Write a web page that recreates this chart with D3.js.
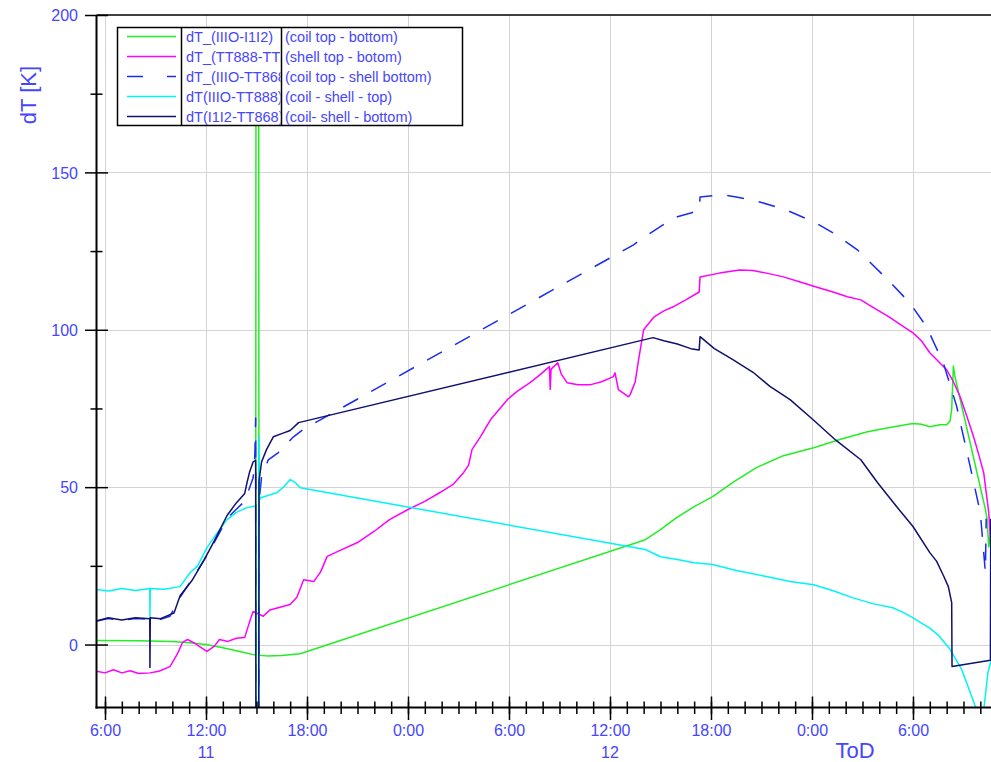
<!DOCTYPE html>
<html>
<head>
<meta charset="utf-8">
<script src="https://cdn.jsdelivr.net/npm/d3@7"></script>
<style>
  body { margin: 0; background: #fff; }
  svg text { font-family: Arial, "Liberation Sans", sans-serif; }
</style>
</head>
<body>
<svg id="chart" width="991" height="762"></svg>
<script>
// ---- data: [hours since 0:00 on day 11, dT in K] ----
const coilTopBottom = [
  [5.5,1.3],[8,1.2],[10,1.0],[11,0.6],[12,0],[13,-1],[14,-2.2],[14.8,-3.2],[14.95,-3.3],
  [14.97,190],[15.13,190],[15.15,-3.4],[15.6,-3.6],[16.5,-3.5],[17.6,-2.9],
  [38.1,33.3],[39,36.5],[40,40.5],[41,43.8],[42.1,47],[43.3,51.5],[44.7,56.2],[46.3,60],
  [48.1,62.5],[49.7,65.2],[51.3,67.6],[52.7,69],[54,70.2],[54.5,70],[55,69.2],[55.6,69.8],
  [56.0,69.8],[56.2,71],[56.3,74.6],[56.4,88.5],[56.5,85],[58.3,43],[58.4,40],[58.5,31],[58.64,36]
];
const shellTopBottom = [
  [5.5,-8.5],[6,-9],[6.5,-8],[7,-9],[7.5,-8.3],[8,-9.2],[8.67,-9],[9.2,-8.5],[9.86,-7],
  [10.3,-3],[10.6,0.6],[10.9,1.6],[11.3,0.5],[11.6,-0.6],[12.06,-2.2],[12.5,-0.5],[12.8,1.6],
  [13.3,1],[13.8,2],[14.3,2.2],[14.5,5.7],[14.7,9],[14.8,10.5],[15.4,9],[15.8,11],[16.5,12],
  [17,12.7],[17.4,15],[17.8,20.6],[18.4,20],[18.8,23],[19.2,28],[20,30],[21,32.4],[22,36],
  [22.9,39.7],[24,42.9],[25,45.5],[25.9,48.3],[26.7,51],[27.3,54.6],[27.6,57],[27.8,61.9],
  [28.3,66],[28.9,71.4],[29.9,77.8],[30.5,80.5],[31.25,83.2],[31.8,85.5],[32.4,88.3],
  [32.45,81],[32.5,87.5],[32.9,89.5],[33.1,86],[33.45,83.2],[34.1,82.5],[34.8,82.5],
  [35.5,83.5],[36.2,85.1],[36.3,86.3],[36.5,81],[37.1,78.7],[37.2,79.4],[37.5,83.5],
  [37.7,90.5],[38.0,100],[38.3,102],[38.6,104],[39.2,106],[39.75,107.3],[40.5,109.5],
  [41.3,112],[41.35,116.8],[42.5,118],[43.7,119],[44.5,118.8],[45.3,118],[46.3,116.8],
  [47.3,115.2],[48.3,113.5],[49.25,112],[50.1,110.5],[50.9,109.5],[51.5,107.5],[52.6,104],
  [53.3,101.5],[54,99],[54.5,96.5],[55,92.7],[55.5,90],[56,87.3],[56.4,83.5],[56.8,78.7],
  [57.2,72.5],[57.6,66],[57.9,60.5],[58.2,54.6],[58.5,42],[58.64,30]
];
const coilTopShellBottom = [
  [5.5,7.5],[6.2,8.3],[7,7.6],[7.8,8.3],[8.67,8],[9.3,8],[9.86,9],[10.46,15],[11.2,21],
  [11.9,27],[12.5,32.5],[13.25,40],[13.8,43],[14.3,45.5],[14.6,50],[14.8,53],[14.9,60],
  [14.95,72],[14.97,-50],[15.13,-50],[15.15,45],[15.3,53.3],[15.7,58.7],[16.3,61],[17.2,66],
  [17.76,68.3],[37,125.8],[37.4,127],[38.2,130],[39.15,133.3],[40,135.9],[40.75,137],
  [41.3,138],[41.35,142.2],[42.7,142.9],[43.5,142.2],[44.9,140.6],[46.5,138],[48.1,134.3],
  [49.25,130.8],[50.7,125.4],[52.5,115.9],[53.8,108.6],[54.8,101],[55.8,89.5],[56.6,75.6],
  [57.4,56.5],[58,41.9],[58.3,23],[58.35,40]
];
const coilShellTop = [
  [5.5,17.5],[6.2,17],[7,17.8],[7.8,17.2],[8.66,17.8],[8.67,8.6],[8.69,17.8],[9.5,17.6],
  [10.46,18.4],[11.05,22.8],[11.5,25],[12.06,30.8],[12.6,35],[13.25,39.7],[13.8,42],
  [14.44,43.5],[14.95,44],[14.97,-50],[15.13,-50],[15.15,66],[15.18,46],[15.3,46.7],
  [16.2,48.2],[16.6,50],[17,52.4],[17.3,51.5],[17.6,49.8],[38.1,30.2],[39,27.9],[40,27],
  [41,26],[42.1,25.4],[43.5,23.5],[45.3,21.6],[46.7,20],[48.1,19],[49.3,17],[50.4,14.9],
  [51.6,13],[52.8,11.7],[53.5,10],[54,8.5],[54.6,6.5],[55,5.2],[55.5,3],[56.2,-1.5],
  [56.9,-8],[57.8,-21],[58.2,-21],[58.45,-9],[58.64,-5]
];
const coilShellBottom = [
  [5.5,7.5],[6.2,8.5],[7,7.8],[7.8,8.5],[8.66,8.2],[8.67,-7.3],[8.69,8.5],[9.3,8.2],
  [9.86,9.5],[10.1,10],[10.46,15.5],[11.2,20.6],[11.9,27],[12.5,33],[13.25,41],[13.8,45],
  [14.3,48],[14.44,51.5],[14.6,55],[14.8,58],[14.95,58.5],[14.97,-50],[15.13,-50],
  [15.15,52],[15.3,58],[15.6,62],[16,66],[16.5,67],[17,68],[17.5,70.5],[38.56,97.5],
  [39.2,96.5],[40,95.5],[40.8,94],[41.3,93.6],[41.35,97.8],[42.2,94],[43.3,90.5],
  [44.5,86.5],[45.5,82],[46.7,77.8],[48.07,71.4],[49.4,65],[50.9,58.7],[51.9,51.4],
  [53,44],[54,37.5],[55,29.2],[55.4,26.5],[55.8,22],[56.1,18.4],[56.3,13.3],[56.32,-7],
  [58.6,-5],[58.62,40]
];

const legendCodes = ["dT_(IIIO-I1I2)", "dT_(TT888-TT868)", "dT_(IIIO-TT868)", "dT(IIIO-TT888)", "dT(I1I2-TT868)"];
const legendDescriptions = ["(coil top - bottom)", "(shell top - botom)", "(coil top - shell bottom)", "(coil - shell - top)", "(coil- shell - bottom)"];
const yTickValues = [0, 50, 100, 150, 200];
const yMinorTickValues = [25, 75, 125, 175];
const dayLabelHours = [12, 36];   // noon of day 11 and day 12
const yTitle = "dT [K]";
const xTitle = "ToD";

// ---- styles ----
const series = [
  { data: coilTopBottom,      color: "#22ee22", dash: null },
  { data: shellTopBottom,     color: "#ff00ff", dash: null },
  { data: coilTopShellBottom, color: "#1a2cf0", dash: "17,15" },
  { data: coilShellTop,       color: "#00f4f4", dash: null },
  { data: coilShellBottom,    color: "#10106e", dash: null }
];
const textBlue = "#4646ff";

const svg = d3.select("#chart");
const plotLeft = 96.5, plotRight = 991, plotTop = 15, plotBottom = 707.5;

const base = new Date(2000, 0, 11, 0, 0, 0);
const at = h => new Date(base.getTime() + h * 3600e3);

const x = d3.scaleTime().domain([at(5.495), at(58.635)]).range([plotLeft, plotRight]);
const y = d3.scaleLinear().domain([-20, 200]).range([plotBottom, plotTop]);

const majorTimes = x.ticks(d3.timeHour.every(6));
const minorTimes = x.ticks(d3.timeHour.every(1));

// grid
const grid = svg.append("g").attr("stroke", "#d4d4d4").attr("stroke-width", 1);
grid.selectAll("line.v").data(majorTimes).join("line")
  .attr("x1", d => Math.round(x(d)) + 0.5).attr("x2", d => Math.round(x(d)) + 0.5)
  .attr("y1", plotTop).attr("y2", plotBottom);
grid.selectAll("line.h").data([0, 50, 100, 150]).join("line")
  .attr("x1", plotLeft).attr("x2", plotRight)
  .attr("y1", d => Math.round(y(d)) + 0.5).attr("y2", d => Math.round(y(d)) + 0.5);

// data lines
svg.append("defs").append("clipPath").attr("id", "plotClip")
  .append("rect").attr("x", plotLeft).attr("y", plotTop)
  .attr("width", plotRight - plotLeft).attr("height", plotBottom - plotTop);
const line = d3.line().x(d => x(at(d[0]))).y(d => y(d[1]));
const plot = svg.append("g").attr("clip-path", "url(#plotClip)");
series.forEach(s => {
  plot.append("path").datum(s.data)
    .attr("fill", "none").attr("stroke", s.color).attr("stroke-width", 1.5)
    .attr("stroke-linejoin", "round")
    .attr("stroke-dasharray", s.dash)
    .attr("d", line);
});

// x axis: minor hourly ticks, major 6-hourly ticks with labels
const xMinor = svg.append("g").attr("transform", `translate(0,${plotBottom})`)
  .call(d3.axisBottom(x).tickValues(minorTimes).tickFormat("").tickSizeOuter(0));
xMinor.select(".domain").remove();
xMinor.selectAll(".tick line").attr("y1", -6).attr("y2", 6.5).attr("stroke", "#000").attr("stroke-width", 1.5);

const xMajor = svg.append("g").attr("transform", `translate(0,${plotBottom})`)
  .call(d3.axisBottom(x).tickValues(majorTimes).tickSizeOuter(0)
    .tickFormat(d => `${d.getHours()}:${d3.format("02")(d.getMinutes())}`));
xMajor.select(".domain").remove();
xMajor.selectAll(".tick line").attr("y1", -11).attr("y2", 12.5).attr("stroke", "#000").attr("stroke-width", 1.5);
xMajor.selectAll(".tick text").attr("y", 28).attr("dy", 0)
  .attr("fill", textBlue).attr("font-size", 16);

svg.append("g").selectAll("text").data(dayLabelHours).join("text")
  .attr("x", d => x(at(d))).attr("y", 758).attr("text-anchor", "middle")
  .attr("fill", textBlue).attr("font-size", 16)
  .text(d => at(d).getDate());

svg.append("line").attr("x1", plotLeft - 1).attr("x2", plotRight).attr("y1", plotBottom).attr("y2", plotBottom)
  .attr("stroke", "#000").attr("stroke-width", 2);

// y axis
const yMinor = svg.append("g").attr("transform", `translate(${plotLeft},0)`)
  .call(d3.axisLeft(y).tickValues(yMinorTickValues).tickFormat(""));
yMinor.select(".domain").remove();
yMinor.selectAll(".tick line").attr("x1", -6).attr("x2", 6).attr("stroke", "#000").attr("stroke-width", 1.5);

const yMajor = svg.append("g").attr("transform", `translate(${plotLeft},0)`)
  .call(d3.axisLeft(y).tickValues(yTickValues).tickFormat(d3.format("d")));
yMajor.select(".domain").remove();
yMajor.selectAll(".tick line").attr("x1", -11.5).attr("x2", 11.5).attr("stroke", "#000").attr("stroke-width", 1.5);
yMajor.selectAll(".tick text").attr("x", -18.5).attr("dy", "0.36em")
  .attr("fill", textBlue).attr("font-size", 16);

svg.append("line").attr("x1", plotLeft).attr("x2", plotLeft).attr("y1", plotTop).attr("y2", plotBottom + 1)
  .attr("stroke", "#000").attr("stroke-width", 2);
svg.append("line").attr("x1", plotLeft).attr("x2", plotRight).attr("y1", plotTop).attr("y2", plotTop)
  .attr("stroke", "#000").attr("stroke-width", 1.5);

// axis titles
svg.append("text").attr("transform", "translate(36,95) rotate(-90)")
  .attr("text-anchor", "middle").attr("fill", textBlue).attr("font-size", 22).text(yTitle);
svg.append("text").attr("x", 855).attr("y", 758).attr("text-anchor", "middle")
  .attr("fill", textBlue).attr("font-size", 22).text(xTitle);

// legend: the signal-code column is a fixed-width cell that clips long codes
const lg = svg.append("g");
lg.append("rect").attr("x", 117.5).attr("y", 27.5).attr("width", 345).attr("height", 98)
  .attr("fill", "#fff").attr("stroke", "#000").attr("stroke-width", 1.5);
const codeCell = lg.append("svg").attr("x", 182).attr("y", 28).attr("width", 98.5).attr("height", 97)
  .attr("overflow", "hidden");
[181.5, 281.5].forEach(cx => lg.append("line").attr("x1", cx).attr("x2", cx)
  .attr("y1", 27.5).attr("y2", 125.5).attr("stroke", "#000").attr("stroke-width", 1.5));
const rowY = i => 36.5 + i * 20;
series.forEach((s, i) => {
  lg.append("line").attr("x1", 127).attr("x2", 176).attr("y1", rowY(i)).attr("y2", rowY(i))
    .attr("stroke", s.color).attr("stroke-width", 1.5)
    .attr("stroke-dasharray", s.dash ? "16,24" : null);
  codeCell.append("text").attr("x", 4).attr("y", rowY(i) - 28).attr("dy", "0.36em")
    .attr("fill", textBlue).attr("font-size", 14.5).text(legendCodes[i]);
  lg.append("text").attr("x", 285).attr("y", rowY(i)).attr("dy", "0.36em")
    .attr("fill", textBlue).attr("font-size", 14.5).text(legendDescriptions[i]);
});
</script>
</body>
</html>
